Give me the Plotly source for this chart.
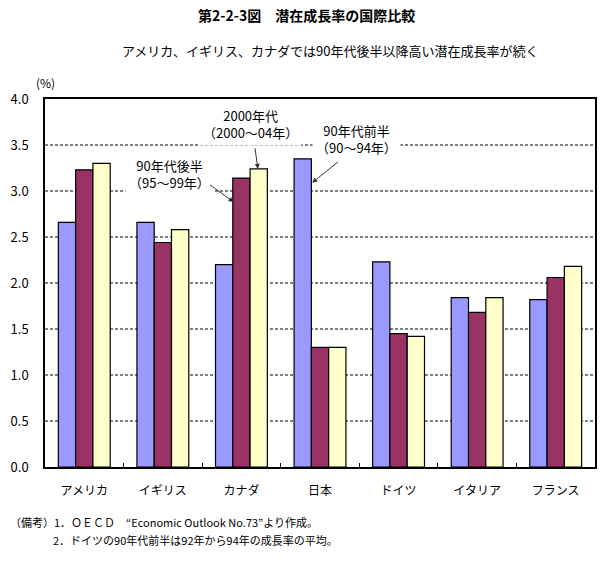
import plotly.graph_objects as go

countries = ["アメリカ", "イギリス", "カナダ", "日本", "ドイツ", "イタリア", "フランス"]
early90s = [2.66, 2.66, 2.20, 3.35, 2.23, 1.84, 1.82]
late90s = [3.23, 2.44, 3.14, 1.30, 1.45, 1.68, 2.06]
y2000s = [3.30, 2.58, 3.24, 1.30, 1.42, 1.84, 2.18]
series_names = ["90年代前半（90～94年）", "90年代後半（95～99年）", "2000年代（2000～04年）"]
colors = ["#9999FF", "#993366", "#FFFFCC"]
y_ticks = [0, 0.5, 1.0, 1.5, 2.0, 2.5, 3.0, 3.5, 4.0]

FONT = "Noto Sans CJK JP"

fig = go.Figure()
for name, vals, col in zip(series_names, [early90s, late90s, y2000s], colors):
    fig.add_trace(go.Bar(x=countries, y=vals, name=name,
                         marker=dict(color=col, line=dict(color="black", width=1.2))))

fig.update_layout(
    width=608, height=563,
    margin=dict(l=42, r=11, t=99, b=96),
    barmode="group", bargap=0.34, bargroupgap=0,
    plot_bgcolor="white", paper_bgcolor="white",
    showlegend=False,
    font=dict(family=FONT, size=12, color="black"),
)
fig.update_yaxes(range=[0, 4], tickmode="array", tickvals=y_ticks, tickformat=".1f",
                 showgrid=False,
                 zeroline=False, showline=True, linecolor="black", linewidth=1.5,
                 mirror=True, ticks="", ticklabelstandoff=12,
                 tickfont=dict(size=13, family=FONT))
fig.update_xaxes(showline=True, linecolor="black", linewidth=1.5, mirror=True,
                 ticks="inside", ticklen=4, tickcolor="black", tickson="boundaries",
                 showgrid=False,
                 ticklabelstandoff=12, tickfont=dict(size=12, family=FONT))

# dashed gridlines
for yv in y_ticks[1:-1]:
    fig.add_shape(type="line", xref="paper", yref="y", x0=0, x1=1, y0=yv, y1=yv,
                  line=dict(color="black", width=1, dash="3px,2px"), layer="below")

# Titles and notes
fig.add_annotation(text="<b>第2-2-3図　潜在成長率の国際比較</b>", xref="paper", yref="paper",
                   x=0.4757, y=1.228, showarrow=False, font=dict(size=14, family=FONT),
                   xanchor="center", yanchor="middle")
fig.add_annotation(text="アメリカ、イギリス、カナダでは90年代後半以降高い潜在成長率が続く",
                   xref="paper", yref="paper", x=0.519, y=1.133, showarrow=False,
                   font=dict(size=13, family=FONT), xanchor="center", yanchor="middle")
fig.add_annotation(text="(%)", xref="paper", yref="paper", x=0.0, y=1.046, showarrow=False,
                   font=dict(size=12, family=FONT), xanchor="center", yanchor="middle")
fig.add_annotation(text="（備考）1．ＯＥＣＤ　“Economic Outlook No.73”より作成。",
                   xref="paper", yref="paper", x=-0.0667, y=-0.149, showarrow=False,
                   font=dict(size=11, family=FONT), xanchor="left", yanchor="middle")
fig.add_annotation(text="2．ドイツの90年代前半は92年から94年の成長率の平均。",
                   xref="paper", yref="paper", x=0.0108, y=-0.198, showarrow=False,
                   font=dict(size=11, family=FONT), xanchor="left", yanchor="middle")

# Series labels
label_pos = [(3.46, 3.56), (1.08, 3.18), (2.12, 3.73)]
for name, (lx, ly) in zip(series_names, label_pos):
    a, b = name.split("（")
    fig.add_annotation(text=a + "<br>（" + b, x=lx, y=ly, xref="x", yref="y",
                       showarrow=False, bgcolor="white", borderpad=3,
                       font=dict(size=13, family=FONT),
                       xanchor="center", yanchor="middle")

# Arrows (tail -> head)
arrows = [((3.25, 3.33), (2.90, 3.09)),
          ((1.58, 3.08), (1.90, 2.88)),
          ((2.17, 3.48), (2.21, 3.24))]
for (tx, ty), (hx, hy) in arrows:
    fig.add_annotation(text="", x=hx, y=hy, ax=tx, ay=ty, xref="x", yref="y",
                       axref="x", ayref="y", showarrow=True, arrowhead=2,
                       arrowsize=1, arrowwidth=1, arrowcolor="#333333")

fig.write_html("out.html")
